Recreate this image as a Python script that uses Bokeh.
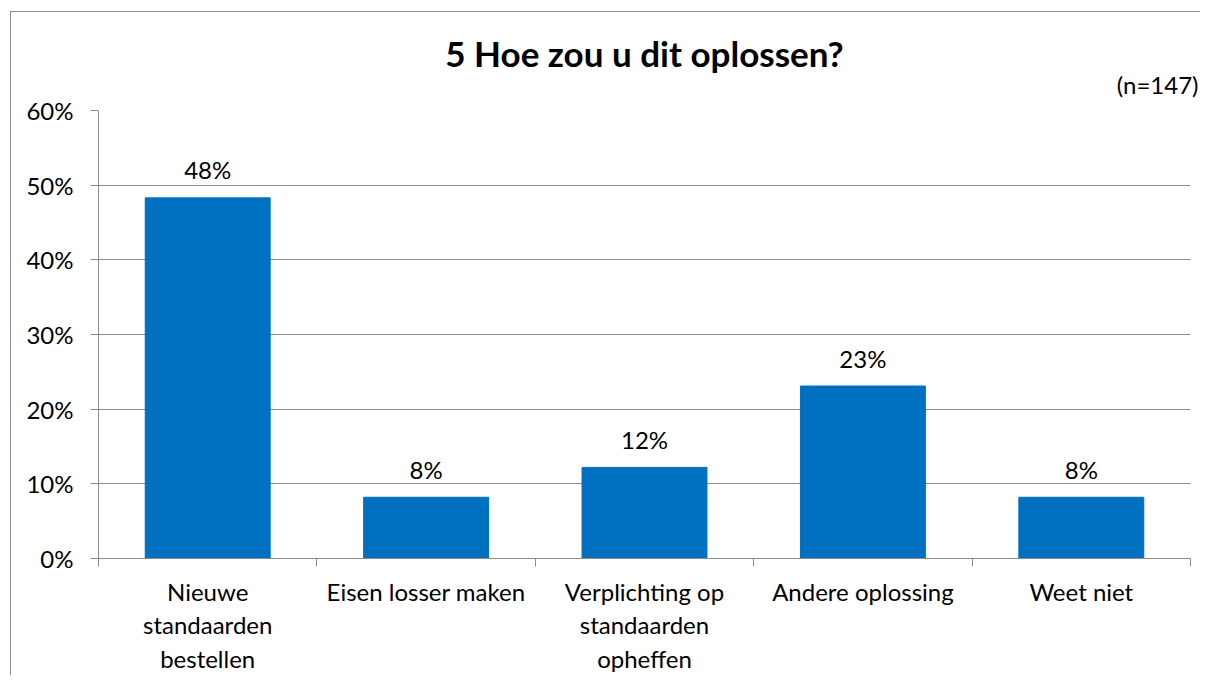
from bokeh.plotting import figure
from bokeh.models import FixedTicker, Title, ColumnDataSource
from bokeh.core.properties import value
from bokeh.embed import file_html
from bokeh.resources import INLINE

categories = ["Nieuwe\nstandaarden\nbestellen", "Eisen losser maken",
              "Verplichting op\nstandaarden\nopheffen", "Andere oplossing", "Weet niet"]
values = [48.3, 8.2, 12.2, 23.1, 8.2]
labels = ["48%", "8%", "12%", "23%", "8%"]
y_ticks = [0, 10, 20, 30, 40, 50, 60]
title_text = "5 Hoe zou u dit oplossen?"
note_text = "(n=147)"

FONT = "Lato"
FS = "24px"
GREY = "#8c8c8c"
BLUE = "#0070C0"

xs = list(range(len(categories)))
src = ColumnDataSource(dict(x=xs, top=values, lab=labels))

p = figure(width=1190, height=664, x_range=(-0.5, len(categories) - 0.5), y_range=(0, 60),
           output_backend="svg", toolbar_location=None, title=None,
           min_border_left=87, min_border_right=11, min_border_top=98, min_border_bottom=117)
p.styles = {"margin-left": "11px", "margin-top": "12px",
            "box-shadow": f"-1px -1px 0px 0px {GREY}"}
p.outline_line_color = None
p.background_fill_color = "white"

p.vbar(x="x", top="top", width=0.572, color=BLUE, source=src)
p.text(x="x", y="top", text="lab", source=src, text_align="center", text_baseline="alphabetic",
       y_offset=-28, text_font=value(FONT), text_font_size=FS, text_color="black")

# x axis
xa = p.xaxis[0]
xa.ticker = FixedTicker(ticks=xs, minor_ticks=[i - 0.5 for i in range(len(categories) + 1)])
xa.major_label_overrides = {i: c for i, c in enumerate(categories)}
xa.major_tick_out = 0
xa.major_tick_in = 0
xa.minor_tick_out = 8
xa.minor_tick_in = 0
xa.minor_tick_line_color = GREY
xa.axis_line_color = GREY
xa.major_label_text_font = FONT
xa.major_label_text_font_size = FS
xa.major_label_text_color = "black"
xa.major_label_text_line_height = 1.17
xa.major_label_standoff = 10

# y axis
ya = p.yaxis[0]
ya.ticker = FixedTicker(ticks=y_ticks)
ya.major_label_overrides = {t: f"{t}%" for t in y_ticks}
ya.major_tick_out = 8
ya.major_tick_in = 0
ya.minor_tick_line_color = None
ya.major_tick_line_color = GREY
ya.axis_line_color = GREY
ya.major_label_text_font = FONT
ya.major_label_text_font_size = FS
ya.major_label_text_color = "black"
ya.major_label_standoff = 17

p.xgrid.grid_line_color = None
p.ygrid.grid_line_color = GREY
p.ygrid.ticker = FixedTicker(ticks=y_ticks)

p.add_layout(Title(text=note_text, align="right", offset=-8, standoff=24,
                   text_font=FONT, text_font_size=FS, text_font_style="normal",
                   text_color="black"), "above")
p.add_layout(Title(text=title_text, align="center", standoff=-37,
                   text_font=FONT, text_font_size="35px", text_font_style="bold",
                   text_color="black"), "above")

open("out.html", "w").write(file_html(p, INLINE))
